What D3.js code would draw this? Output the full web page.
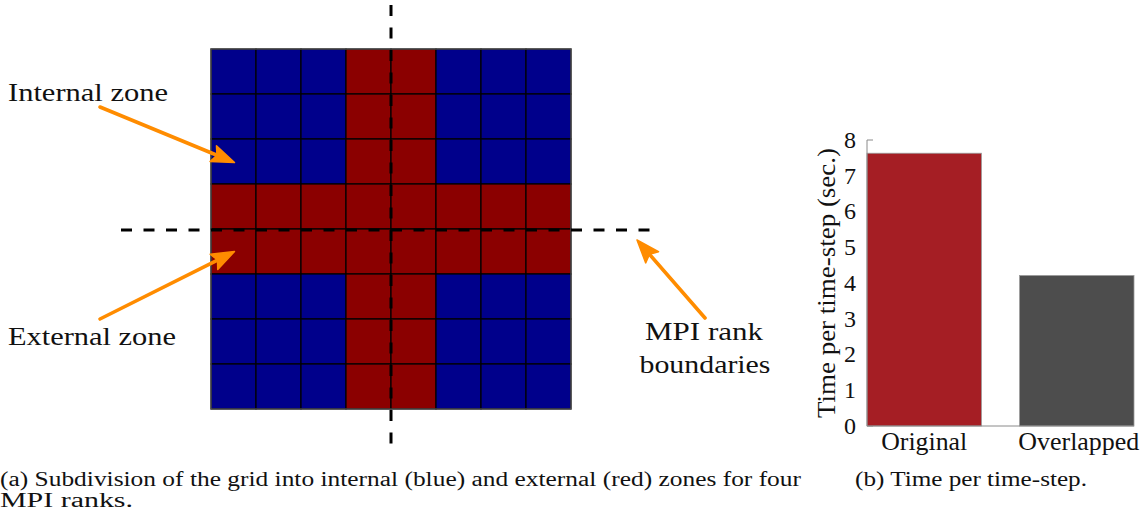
<!DOCTYPE html>
<html>
<head>
<meta charset="utf-8">
<script src="https://cdn.jsdelivr.net/npm/d3@7"></script>
<style>
  html, body { margin: 0; padding: 0; background: #fff; }
</style>
</head>
<body>
<svg id="fig" width="1143" height="516"></svg>
<script>
// ---- data ----
const gridCells = d3.range(8);            // 8 x 8 grid of cells
const externalBand = [3, 4];              // rows / columns that form the external zone
const categories = ["Original", "Overlapped"];
const timePerStep = [7.63, 4.21];         // seconds per time-step
const yTicks = [0, 1, 2, 3, 4, 5, 6, 7, 8];
const barColors = ["#a51e24", "#4d4d4d"];

const serif = "'Liberation Serif'";
const svg = d3.select("#fig");

// ---- (a) grid subdivision ----
const gx = d3.scaleBand().domain(gridCells).range([211, 571]);
const gy = d3.scaleBand().domain(gridCells).range([49, 409]);

const cells = [];
gridCells.forEach(r => gridCells.forEach(c => cells.push({ r, c })));
const isExternal = d => externalBand.includes(d.r) || externalBand.includes(d.c);

const gGrid = svg.append("g");
gGrid.selectAll("rect.cell")
  .data(cells)
  .join("rect")
  .attr("class", "cell")
  .attr("x", d => gx(d.c))
  .attr("y", d => gy(d.r))
  .attr("width", gx.bandwidth())
  .attr("height", gy.bandwidth())
  .attr("fill", d => isExternal(d) ? "#8b0000" : "#00008b")
  .attr("stroke", "#000")
  .attr("stroke-width", 1.2);

gGrid.append("rect")
  .attr("x", gx.range()[0]).attr("y", gy.range()[0])
  .attr("width", gx.range()[1] - gx.range()[0])
  .attr("height", gy.range()[1] - gy.range()[0])
  .attr("fill", "none").attr("stroke", "#555").attr("stroke-width", 1.2);

// MPI rank boundaries (dashed)
const midX = gx(externalBand[1]);
const midY = gy(externalBand[1]) + 1;
gGrid.append("line")
  .attr("x1", midX).attr("x2", midX).attr("y1", 5).attr("y2", 445)
  .attr("stroke", "#000").attr("stroke-width", 3).attr("stroke-dasharray", "11,11.5");
gGrid.append("line")
  .attr("x1", 121).attr("x2", 650).attr("y1", midY).attr("y2", midY)
  .attr("stroke", "#000").attr("stroke-width", 3).attr("stroke-dasharray", "11,11.5");

// annotation arrows
const orange = "#ff8c00";
function arrow(x1, y1, x2, y2) {
  const a = Math.atan2(y2 - y1, x2 - x1);
  const L = 23, W = 8.5;
  const bx = x2 - L * Math.cos(a), by = y2 - L * Math.sin(a);
  const px = -Math.sin(a) * W, py = Math.cos(a) * W;
  svg.append("line")
    .attr("x1", x1).attr("y1", y1)
    .attr("x2", x2 - (L - 4) * Math.cos(a)).attr("y2", y2 - (L - 4) * Math.sin(a))
    .attr("stroke", orange).attr("stroke-width", 3.6).attr("stroke-linecap", "round");
  svg.append("path")
    .attr("d", `M${x2},${y2}L${bx + px},${by + py}L${bx + 4 * Math.cos(a)},${by + 4 * Math.sin(a)}L${bx - px},${by - py}Z`)
    .attr("fill", orange).attr("stroke", orange).attr("stroke-width", 1.5).attr("stroke-linejoin", "round");
}
const cx0 = gx(0) + gx.bandwidth() / 2;
arrow(100, 107, cx0 + 1, gy(2) + gy.bandwidth() / 2 + 1);
arrow(100, 319, cx0 + 1, gy(4) + gy.bandwidth() / 2);
arrow(705, 318, 637, 240);

function label(x, y, size, len, str, anchor) {
  return svg.append("text")
    .attr("x", x).attr("y", y)
    .style("font-family", serif)
    .attr("font-size", size)
    .attr("fill", "#111")
    .attr("text-anchor", anchor || "start")
    .attr("textLength", len).attr("lengthAdjust", "spacingAndGlyphs")
    .text(str);
}

label(8, 101, 26, 160, "Internal zone");
label(8, 345, 26, 168, "External zone");
label(704, 340, 26, 118, "MPI rank", "middle");
label(705, 373, 26, 131, "boundaries", "middle");

// ---- (b) time per time-step ----
const x = d3.scaleBand().domain(categories).range([867, 1134]).paddingInner(0.25).paddingOuter(0);
const y = d3.scaleLinear().domain([0, 8]).range([426, 140]);
const axisGray = "#8a8a8a";

const gBar = svg.append("g");
// tick marks point inward, bars cover those below the bar tops
gBar.selectAll("line.tick")
  .data(yTicks)
  .join("line")
  .attr("class", "tick")
  .attr("x1", x.range()[0]).attr("x2", x.range()[0] + 6)
  .attr("y1", d => y(d)).attr("y2", d => y(d))
  .attr("stroke", axisGray).attr("stroke-width", 1);

gBar.selectAll("rect.bar")
  .data(categories)
  .join("rect")
  .attr("class", "bar")
  .attr("x", d => x(d))
  .attr("y", (d, i) => y(timePerStep[i]))
  .attr("width", x.bandwidth())
  .attr("height", (d, i) => y(0) - y(timePerStep[i]))
  .attr("fill", (d, i) => barColors[i])
  .attr("stroke", "#9a9a9a").attr("stroke-width", 0.8);

gBar.append("line")
  .attr("x1", x.range()[0]).attr("x2", x.range()[0])
  .attr("y1", y(8)).attr("y2", y(0))
  .attr("stroke", axisGray).attr("stroke-width", 1);
gBar.append("line")
  .attr("x1", x.range()[0]).attr("x2", x.range()[1])
  .attr("y1", y(0)).attr("y2", y(0))
  .attr("stroke", axisGray).attr("stroke-width", 1);

gBar.selectAll("text.ytick")
  .data(yTicks)
  .join("text")
  .attr("class", "ytick")
  .attr("x", 856)
  .attr("y", d => y(d))
  .attr("dy", "0.33em")
  .attr("text-anchor", "end")
  .style("font-family", serif)
  .attr("font-size", 24)
  .attr("fill", "#111")
  .text(d => d);

gBar.selectAll("text.xcat")
  .data(categories)
  .join("text")
  .attr("class", "xcat")
  .attr("x", d => x(d) + x.bandwidth() / 2 + (d === "Overlapped" ? 2 : 0))
  .attr("y", 450)
  .attr("text-anchor", "middle")
  .style("font-family", serif)
  .attr("font-size", 26)
  .attr("fill", "#111")
  .attr("textLength", d => d === "Original" ? 86 : 121)
  .attr("lengthAdjust", "spacingAndGlyphs")
  .text(d => d);

gBar.append("text")
  .attr("transform", `translate(835, ${(y(8) + y(0)) / 2}) rotate(-90)`)
  .attr("text-anchor", "middle")
  .style("font-family", serif)
  .attr("font-size", 25)
  .attr("fill", "#111")
  .attr("textLength", 270)
  .attr("lengthAdjust", "spacingAndGlyphs")
  .text("Time per time-step (sec.)");

// ---- captions ----
label(0, 486, 20, 801, "(a) Subdivision of the grid into internal (blue) and external (red) zones for four");
label(0, 507, 20, 133, "MPI ranks.");
label(855, 486, 20, 232, "(b) Time per time-step.");
</script>
</body>
</html>
